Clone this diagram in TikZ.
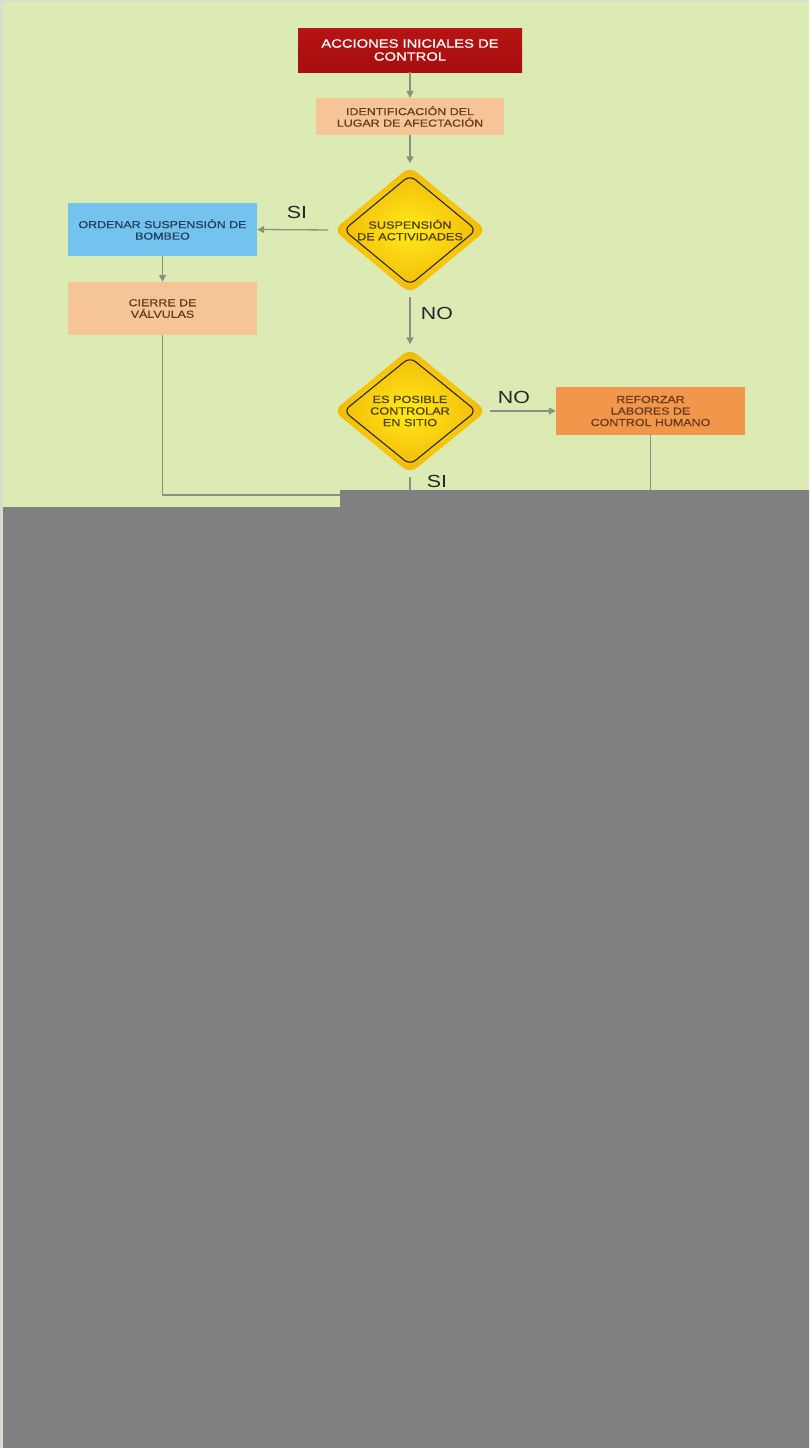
\documentclass[tikz,border=0pt]{standalone}
\usepackage{fontspec}
\newfontfamily\flowfont[FakeStretch=1.22,FakeBold=0.6]{Liberation Sans}
\newfontfamily\lblfont[FakeStretch=1.22]{Liberation Sans}
\usetikzlibrary{arrows.meta,positioning,shapes.geometric}
\definecolor{bggreen}{HTML}{DCEBB3}
\definecolor{bgedge}{HTML}{D9DCCF}
\definecolor{linegray}{HTML}{8C917F}
\definecolor{peach}{HTML}{F5C497}
\definecolor{skyblue}{HTML}{74C3EF}
\definecolor{deeporange}{HTML}{F0974B}
\definecolor{brown}{HTML}{6A3A1C}
\definecolor{navy}{HTML}{223E5C}
\definecolor{olive}{HTML}{4E4200}
\definecolor{redtop}{HTML}{B51414}
\definecolor{redmid}{HTML}{E84444}
\definecolor{redbot}{HTML}{A80E0E}
\definecolor{yelin}{HTML}{FFEA1C}
\definecolor{yelout}{HTML}{F2B705}
\definecolor{hidden}{HTML}{808080}

\begin{document}
\begin{tikzpicture}[x=1pt,y=-1pt,>={Triangle[width=7pt,length=7pt]}]
\tikzstyle{box}=[draw=none,minimum width=189pt,minimum height=53pt,inner sep=0pt,align=center,font=\flowfont\fontsize{10.2}{11.5}\selectfont]
\tikzstyle{dmd}=[diamond,minimum width=153pt,minimum height=127pt,inner sep=0pt,rounded corners=9pt,shading=radial,inner color=yelin,outer color=yelout]
\tikzstyle{dmdin}=[diamond,minimum width=133pt,minimum height=110pt,inner sep=0pt,rounded corners=7pt,draw=black!85,line width=1.1pt]
\tikzstyle{dtxt}=[align=center,text=olive,font=\flowfont\fontsize{10.4}{11.6}\selectfont]
\tikzstyle{lbl}=[text=black!85,font=\lblfont\fontsize{17.5}{18}\selectfont]
\tikzstyle{con}=[draw=linegray,line width=1.3pt]
\useasboundingbox (0,0) rectangle (809,1448);
\fill[bgedge] (0,0) rectangle (809,1448);
\fill[bggreen] (3,2) rectangle (809,1448);
% boxes
\node[box,minimum width=224pt,minimum height=44pt,text=white,top color=redtop,middle color=redmid,bottom color=redbot,font=\flowfont\fontsize{12.1}{13}\selectfont] (start) at (410,50) {ACCIONES INICIALES DE\\CONTROL};
\node[box,minimum width=188pt,minimum height=37pt,fill=peach,text=brown] (ident) at (410,116.5) {IDENTIFICACIÓN DEL\\LUGAR DE AFECTACIÓN};
\node[box,fill=skyblue,text=navy] (bombeo) at (162.5,229.5) {ORDENAR SUSPENSIÓN DE\\BOMBEO};
\node[box,fill=peach,text=brown] (cierre) at (162.5,308.5) {CIERRE DE\\VÁLVULAS};
\node[box,minimum height=48pt,fill=deeporange,text=brown] (refuerzo) at (650.5,411) {REFORZAR\\LABORES DE\\CONTROL HUMANO};
% decisions
\node[dmd] (susp) at (410,230) {};
\node[dmdin] (suspin) at (susp) {};
\node[dtxt] (susptxt) at (susp) {SUSPENSIÓN\\DE ACTIVIDADES};
\node[dmd,minimum height=125pt] (posible) at (410,411) {};
\node[dmdin,minimum height=108pt] (posiblein) at (posible) {};
\node[dtxt] (posibletxt) at (posible) {ES POSIBLE\\CONTROLAR\\EN SITIO};
% free ends under the cover
\coordinate (endl) at (345,495);
\coordinate (endm) at (410,500);
\coordinate (endr) at (650.5,500);
% connectors
\draw[con,->] (start) -- (ident);
\draw[con,->,shorten >=3pt] (ident) -- (susp);
\draw[con,->,shorten <=5pt] (susp.west) -- (bombeo.east);
\draw[con,->] (bombeo) -- (cierre);
\draw[con,->,shorten <=3pt,shorten >=4pt] (susp.south) -- (posible.north);
\draw[con,->,shorten <=3pt] (posible.east) -- (refuerzo.west);
\draw[con] (cierre.south) |- (endl);
\draw[con,shorten <=3pt] (posible.south) -- (endm);
\draw[con] (refuerzo.south) -- (endr);
% labels
\node[lbl] (si1) at (297,212) {SI};
\node[lbl] (no1) at (437,313) {NO};
\node[lbl] (no2) at (514,397) {NO};
\node[lbl] (si2) at (437,481) {SI};
% covered part
\fill[hidden] (3,507) -- (340,507) -- (340,490) -- (809,490) -- (809,1448) -- (3,1448) -- cycle;
\end{tikzpicture}
\end{document}
